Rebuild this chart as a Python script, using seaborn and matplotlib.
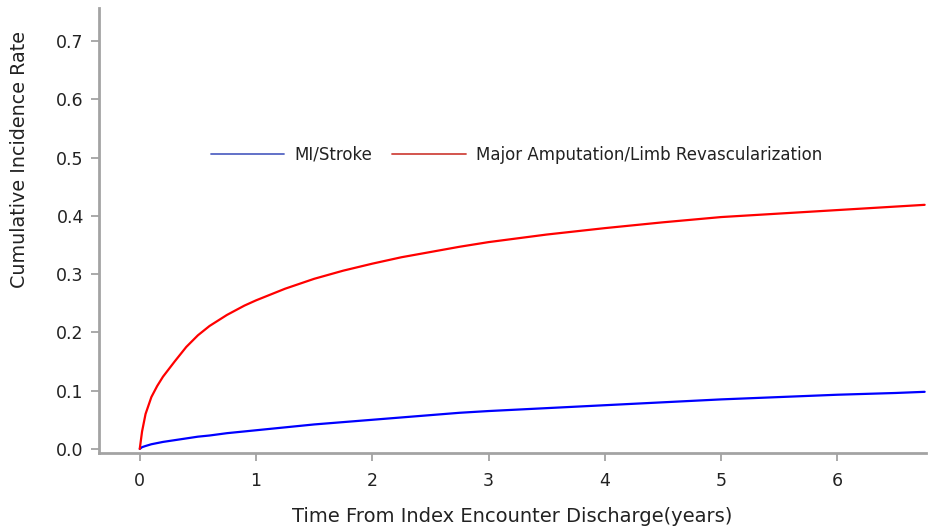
import matplotlib
matplotlib.use("Agg")
from matplotlib import pyplot as plt
from matplotlib.lines import Line2D
import seaborn as sns
import pandas as pd

# values
tiempo = [0.0, 0.02, 0.05, 0.1, 0.15, 0.2, 0.3, 0.4, 0.5, 0.6, 0.75, 0.9, 1.0, 1.25, 1.5, 1.75, 2.0, 2.25, 2.5, 2.75,
          3.0, 3.5, 4.0, 4.5, 5.0, 5.5, 6.0, 6.5, 6.75]
mi_stroke = [0.0, 0.003, 0.005, 0.008, 0.010, 0.012, 0.015, 0.018, 0.021, 0.023, 0.027, 0.030, 0.032, 0.037, 0.042, 0.046,
             0.050, 0.054, 0.058, 0.062, 0.065, 0.070, 0.075, 0.080, 0.085, 0.089, 0.093, 0.096, 0.098]
amputacion = [0.0, 0.030, 0.060, 0.089, 0.108, 0.124, 0.150, 0.175, 0.195, 0.211, 0.230, 0.246, 0.255, 0.275, 0.292, 0.306,
              0.318, 0.329, 0.338, 0.347, 0.355, 0.368, 0.379, 0.389, 0.398, 0.404, 0.410, 0.416, 0.419]
series = ["MI/Stroke", "Major Amputation/Limb Revascularization"]

gris = "#a3a3a3"
texto = "#222222"

sns.set_style("white")
plt.rcParams["font.family"] = ["DejaVu Sans"]

fig = plt.figure(figsize=(9.3, 5.29), dpi=100)
ax = fig.add_axes([0.1065, 0.1437, 0.889, 0.8413])

df_mi = pd.DataFrame({"t": tiempo, "y": mi_stroke})
df_amp = pd.DataFrame({"t": tiempo, "y": amputacion})
sns.lineplot(data=df_mi, x="t", y="y", ax=ax, color="#0000ff", linewidth=1.6, legend=False)
sns.lineplot(data=df_amp, x="t", y="y", ax=ax, color="#ff0000", linewidth=1.6, legend=False)

ax.set_xlim(-0.35, 6.76)
ax.set_ylim(-0.007, 0.757)
ax.set_xticks(range(0, 7))
ax.set_yticks([0.0, 0.1, 0.2, 0.3, 0.4, 0.5, 0.6, 0.7])
ax.set_yticklabels([f"{v:.1f}" for v in ax.get_yticks()])

for lado in ["top", "right"]:
    ax.spines[lado].set_visible(False)
for lado in ["left", "bottom"]:
    ax.spines[lado].set_color(gris)
    ax.spines[lado].set_linewidth(2)
ax.tick_params(axis="both", colors=gris, length=6, width=1.3, direction="out",
               labelsize=12.5, labelcolor=texto, pad=5, bottom=True, left=True)
ax.tick_params(axis="x", pad=8)

ax.set_xlabel("Time From Index Encounter Discharge(years)", fontsize=14, color=texto, labelpad=12)
ax.set_ylabel("Cumulative Incidence Rate", fontsize=13.8, color=texto)
ax.yaxis.set_label_coords(-0.085, 0.66)

manijas = [Line2D([], [], color="#5566c4", linewidth=1.3),
           Line2D([], [], color="#d0473f", linewidth=1.3)]
ax.legend(manijas, series, ncol=2, frameon=False, fontsize=12,
          loc="center", bbox_to_anchor=(3.24, 0.505), bbox_transform=ax.transData,
          handlelength=4.4, columnspacing=1.2, handletextpad=0.6, labelcolor=texto)

fig.savefig("out.png", dpi=100)
